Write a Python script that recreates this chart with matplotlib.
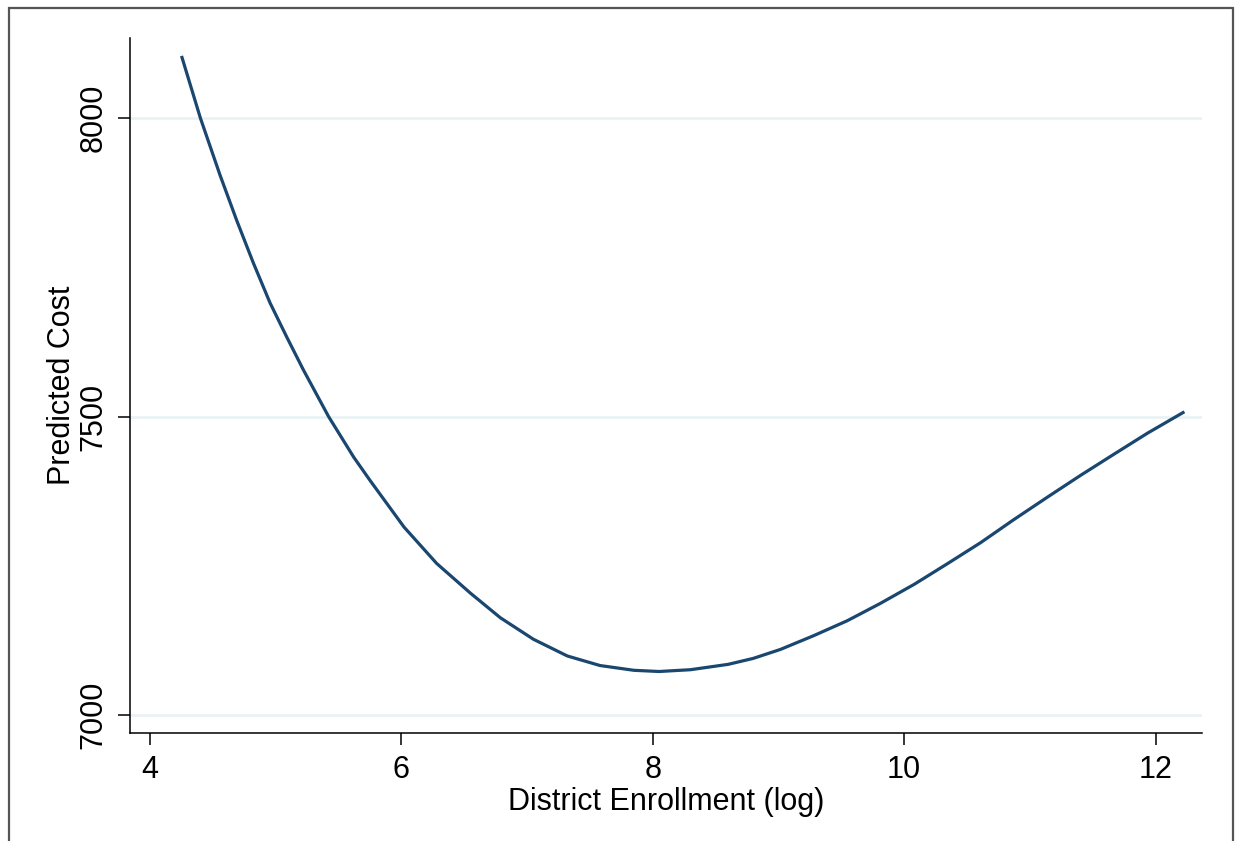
import matplotlib
matplotlib.use("Agg")
import matplotlib.pyplot as plt
from matplotlib.patches import Rectangle

# Data
enroll_log = [4.25, 4.40, 4.557, 4.69, 4.82, 4.955, 5.09, 5.22, 5.42, 5.62, 5.75,
              6.02, 6.28, 6.55, 6.787, 7.05, 7.32, 7.58, 7.85, 8.05, 8.30, 8.60,
              8.80, 9.016, 9.28, 9.547, 9.81, 10.08, 10.34, 10.61, 10.87, 11.14,
              11.40, 11.67, 11.935, 12.23]
pred_cost = [8104, 8000, 7904, 7828, 7758, 7690, 7632, 7578, 7500, 7432, 7393,
             7315, 7254, 7204, 7163, 7127, 7099, 7083, 7075, 7073, 7076, 7085,
             7095, 7110, 7133, 7158, 7187, 7219, 7253, 7289, 7327, 7365,
             7401, 7437, 7472, 7508]
x_ticks = [4, 6, 8, 10, 12]
y_ticks = [7000, 7500, 8000]
x_label = "District Enrollment (log)"
y_label = "Predicted Cost"

plt.rcParams['font.family'] = ['Liberation Sans', 'DejaVu Sans']

W, H = 1235, 841
fig = plt.figure(figsize=(W / 100, H / 100), dpi=100)
fig.patch.set_facecolor('white')

# outer frame
fig.patches.append(Rectangle((9 / W, -0.05), (1233 - 9) / W, 1 - 8 / H + 0.05,
                             transform=fig.transFigure, fill=False,
                             edgecolor='#555555', linewidth=1.6))

ax = fig.add_axes([130 / W, 1 - 733 / H, (1202 - 130) / W, (733 - 38) / H])
ax.plot(enroll_log, pred_cost, color='#1a476f', linewidth=2.3,
        solid_capstyle='butt', solid_joinstyle='round')

ax.set_xlim(3.84, 12.37)
ax.set_ylim(6970, 8134)
ax.set_xticks(x_ticks)
ax.set_yticks(y_ticks)
ax.set_yticklabels([str(v) for v in y_ticks], rotation=90, va='center')
for v in y_ticks:
    ax.axhline(v, color='#eaf2f3', linewidth=2.0, zorder=0)

for s in ['top', 'right']:
    ax.spines[s].set_visible(False)
for s in ['left', 'bottom']:
    ax.spines[s].set_linewidth(1.1)
    ax.spines[s].set_color('black')

ax.tick_params(axis='both', direction='out', length=8.6, width=1.1, labelsize=22, pad=7)
ax.set_xlabel(x_label, fontsize=22, labelpad=2)
ax.set_ylabel(y_label, fontsize=22, labelpad=1)

fig.savefig('out.png', dpi=100)
